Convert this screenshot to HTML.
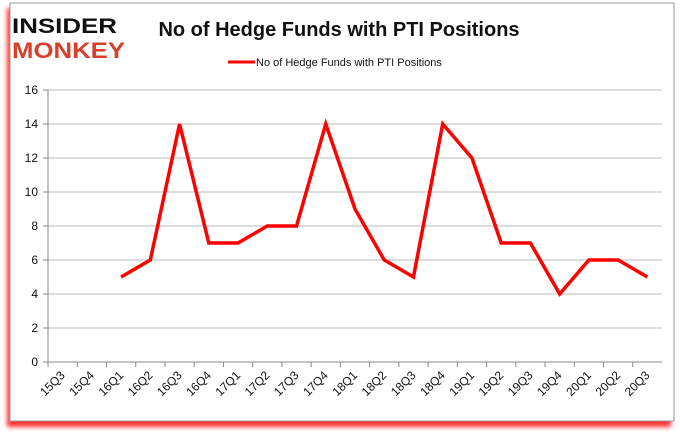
<!DOCTYPE html>
<html><head><meta charset="utf-8"><style>
body{margin:0;width:680px;height:433px;background:#fff;overflow:hidden;font-family:"Liberation Sans",sans-serif}
</style></head><body>
<svg width="680" height="433" xmlns="http://www.w3.org/2000/svg">
<defs><filter id="sh" x="-5%" y="-5%" width="110%" height="110%"><feGaussianBlur stdDeviation="2.5"/></filter></defs>
<rect x="7" y="8" width="664" height="419" fill="#f00" opacity="0.8" filter="url(#sh)"/>
<rect x="10" y="3" width="664" height="418" fill="#fff" stroke="#999"/>
<g font-family="Liberation Sans" font-weight="bold">
<text x="12" y="33" font-size="21" fill="#111" textLength="105" lengthAdjust="spacingAndGlyphs">INSIDER</text>
<text x="12" y="58" font-size="22" fill="#d9402a" textLength="113" lengthAdjust="spacingAndGlyphs">MONKEY</text>
</g>
<text x="339" y="36" text-anchor="middle" font-size="20" font-weight="bold" fill="#111">No of Hedge Funds with PTI Positions</text>
<line x1="228" y1="62" x2="255" y2="62" stroke="#f00" stroke-width="3"/>
<text x="256" y="66" font-size="11" fill="#111">No of Hedge Funds with PTI Positions</text>
<g id="grid"></g><g id="axes"></g><g id="series"></g>
</svg>
<script>
const categories=["15Q3","15Q4","16Q1","16Q2","16Q3","16Q4","17Q1","17Q2","17Q3","17Q4","18Q1","18Q2","18Q3","18Q4","19Q1","19Q2","19Q3","19Q4","20Q1","20Q2","20Q3"];
const values=[null,null,5,6,14,7,7,8,8,14,9,6,5,14,12,7,7,4,6,6,5];
const yTicks=[0,2,4,6,8,10,12,14,16];
const NS="http://www.w3.org/2000/svg";
const L=48,R=662,T=90,B=362,yMax=16;
const bw=(R-L)/categories.length;
const x=i=>L+bw*(i+0.5);
const y=v=>B-(v/yMax)*(B-T);
function mk(t,a,p){const e=document.createElementNS(NS,t);for(const k in a)e.setAttribute(k,a[k]);document.getElementById(p).appendChild(e);return e;}
yTicks.forEach(v=>{
 let g=mk('line',{x1:L,x2:R,y1:y(v),y2:y(v),stroke:v===0?'#888':'#bbb'},'grid');
 
 
 let tk=mk('line',{x1:L-5,x2:L,y1:y(v),y2:y(v),stroke:'#888'},'axes');
 
 
 let t=mk('text',{x:L-10,y:y(v)+4,'text-anchor':'end','font-size':12,fill:'#111'},'axes');
 
 
 t.textContent=v;
});
let ya=mk('line',{x1:L,x2:L,y1:T,y2:B,stroke:'#888'},'axes');


categories.forEach((c,i)=>{
 let tk=mk('line',{x1:L+bw*i,x2:L+bw*i,y1:B,y2:B+5,stroke:'#888'},'axes');
 
 
 let t=mk('text',{x:x(i)+3,y:B+14,'text-anchor':'end','font-size':12,fill:'#111',transform:`rotate(-45 ${x(i)+3} ${B+14})`},'axes');
 
 
 t.textContent=c;
});
let pts=[];values.forEach((v,i)=>{if(v!==null)pts.push(x(i)+','+y(v));});
let pl=mk('polyline',{points:pts.join(' '),fill:'none',stroke:'#f00','stroke-width':3.5,'stroke-linejoin':'miter'},'series');


</script>
</body></html>
